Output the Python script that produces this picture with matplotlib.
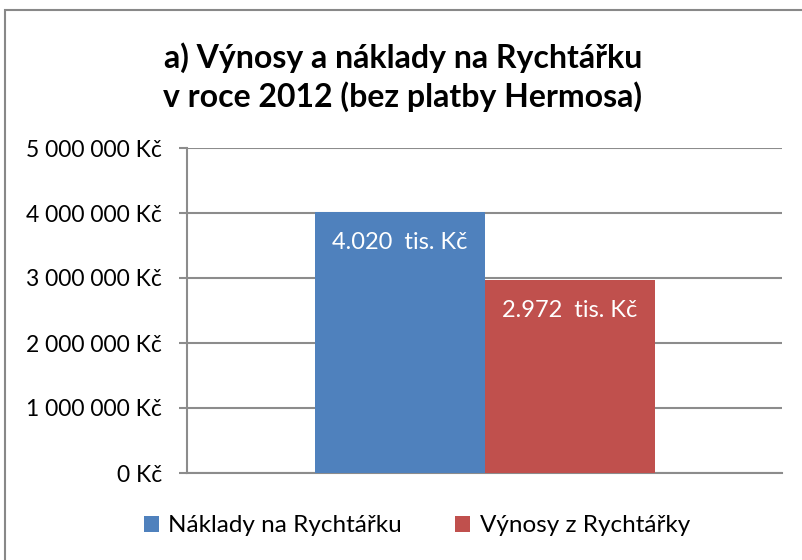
import matplotlib
matplotlib.use("Agg")
import matplotlib.pyplot as plt
from matplotlib.patches import Rectangle

plt.rcParams['font.family'] = ['Lato', 'DejaVu Sans']

title = "a) Výnosy a náklady na Rychtářku\nv roce 2012 (bez platby Hermosa)"
series = ["Náklady na Rychtářku", "Výnosy z Rychtářky"]
values = [4020000, 2972000]
colors = ["#4F81BD", "#C0504D"]
yticks = [0, 1000000, 2000000, 3000000, 4000000, 5000000]

def kc(v):
    return f"{v:,.0f}".replace(",", " ") + " Kč"

fig = plt.figure(figsize=(8.02, 5.6), dpi=100)
fig.patches.append(Rectangle((5/802, -0.1), 1.2, 1 - 10/560 + 0.1, transform=fig.transFigure,
                             fill=False, edgecolor="#888888", linewidth=1.5))

ax = fig.add_axes([187/802, 1 - 473/560, (782-187)/802, (473-148)/560])
grid_c = "#8c8c8c"
bw = 170/595
offsets = [-bw/2, bw/2]
for name, v, c, o in zip(series, values, colors, offsets):
    ax.bar(o, v, width=bw, color=c, label=name, zorder=3)
    lbl = f"{v/1000:,.0f}".replace(",", ".") + "  tis. Kč"
    ax.annotate(lbl, (o, v), xytext=(0, -22), textcoords="offset points",
                ha="center", va="center", color="white", fontsize=17, zorder=4)

ax.set_xlim(-0.5, 0.5)
ax.set_ylim(0, 5000000)
ax.set_yticks(yticks)
ax.set_yticklabels([kc(v) for v in yticks], fontsize=16.5)
ax.set_xticks([])
ax.yaxis.grid(True, color=grid_c, linewidth=1.5, zorder=0)
for s in ["top", "right"]:
    ax.spines[s].set_visible(False)
ax.spines["left"].set_color(grid_c)
ax.spines["left"].set_linewidth(1.5)
ax.spines["bottom"].set_color(grid_c)
ax.spines["bottom"].set_linewidth(1.5)
ax.tick_params(axis="y", length=6, width=1.5, color=grid_c, pad=12)

fig.text(403/802, 1 - 77/560, title, ha="center", va="center", fontsize=23,
         fontweight="bold", linespacing=1.3)

fig.legend(loc="center", bbox_to_anchor=(417/802, 1 - 526/560), ncol=2, frameon=False,
           fontsize=17.5, handlelength=0.6, handleheight=0.6, columnspacing=2.2, handletextpad=0.4)

fig.savefig("out.png", dpi=100)
